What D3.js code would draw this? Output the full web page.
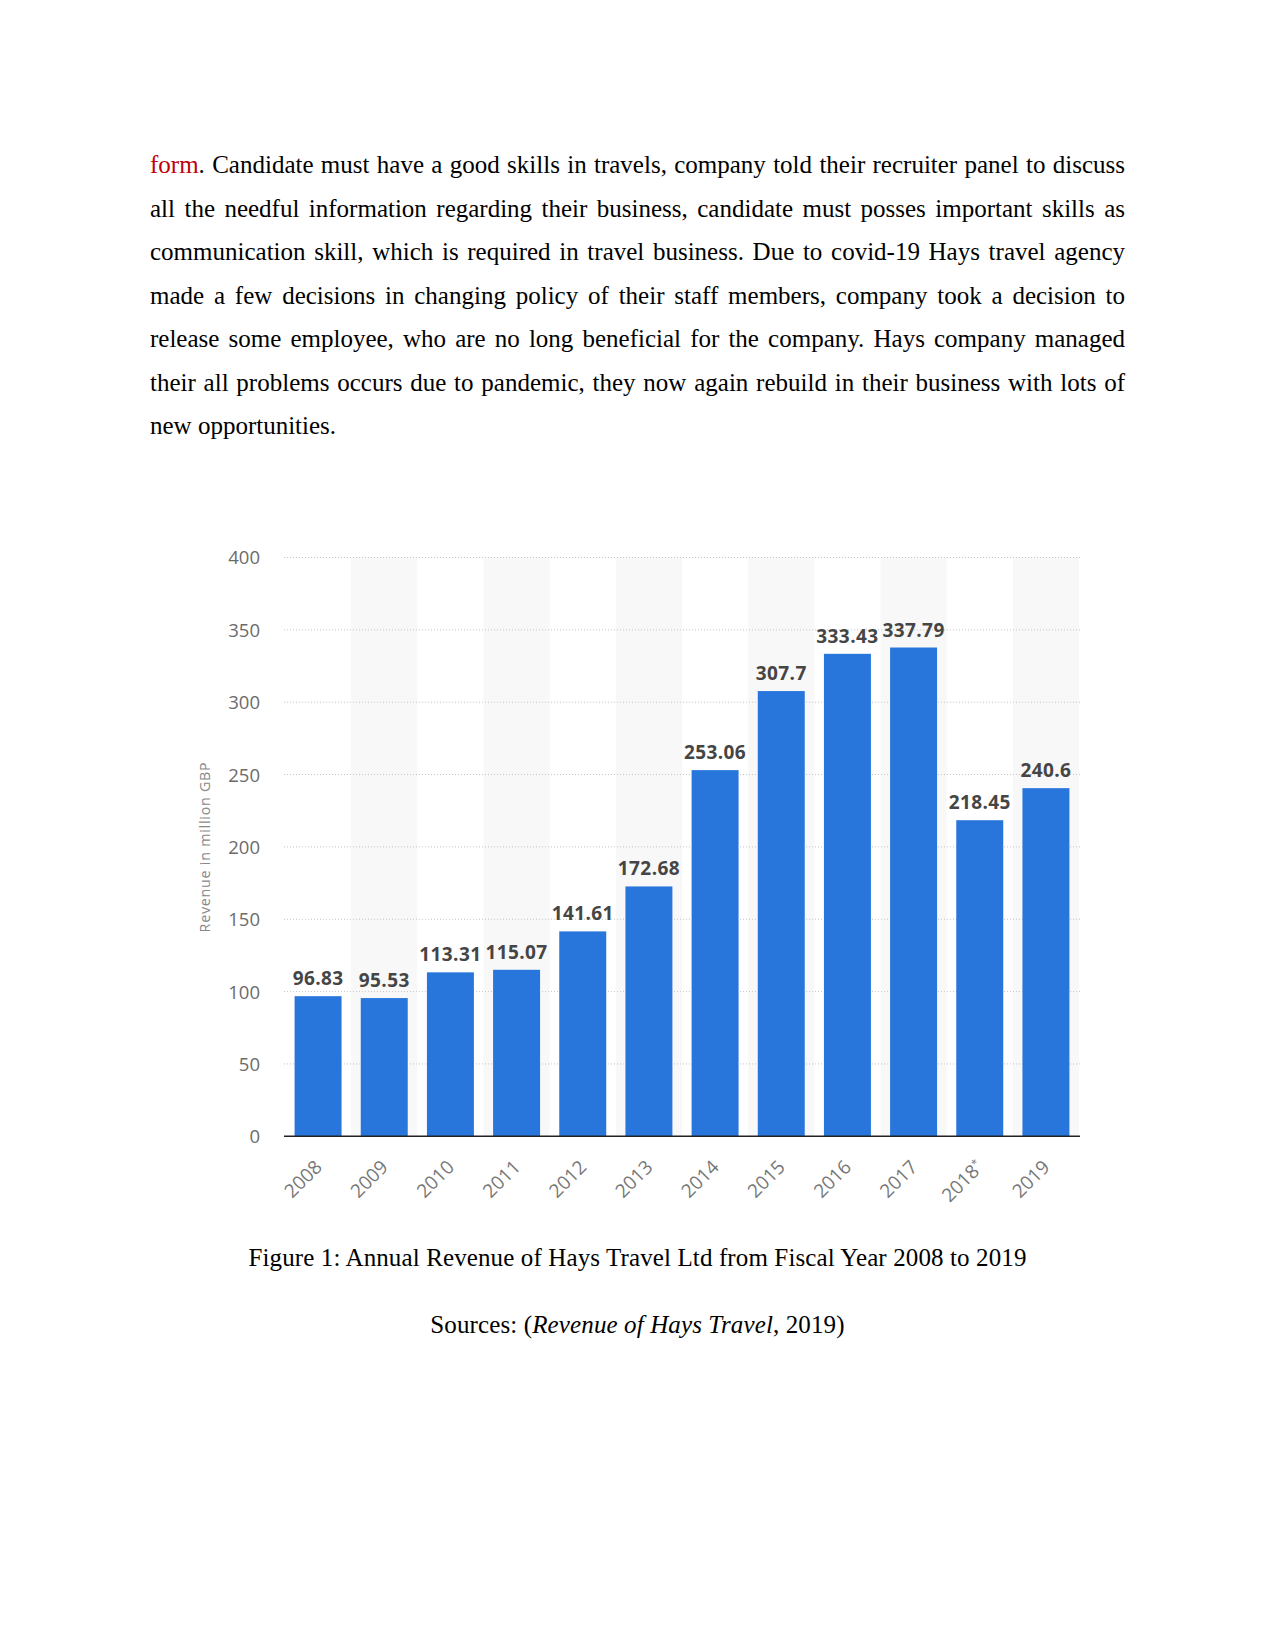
<!DOCTYPE html>
<html>
<head>
<meta charset="utf-8">
<script src="https://cdn.jsdelivr.net/npm/d3@7"></script>
<style>
  html, body { margin: 0; padding: 0; background: #fff; }
  body { width: 1275px; height: 1651px; position: relative; overflow: hidden; }
  .para { position: absolute; left: 150px; width: 975px; font-family: "Liberation Serif", "Times New Roman", serif; font-size: 25px; line-height: 43.5px; color: #000; }
  .line { text-align: justify; text-align-last: justify; white-space: nowrap; }
  .line.last { text-align-last: left; }
  .red { color: #c0000b; }
  .cap { position: absolute; left: 0; width: 1275px; text-align: center; font-family: "Liberation Serif", "Times New Roman", serif; font-size: 25px; line-height: 43.5px; color: #000; letter-spacing: 0.12px; }
  svg { position: absolute; left: 0; top: 0; }
</style>
</head>
<body>
<div class="para" id="para" style="top:143px"></div>
<div class="cap" id="cap1" style="top:1236px"></div>
<div class="cap" id="cap2" style="top:1303px"></div>
<svg id="chart" width="1275" height="1651"></svg>
<script>
// ---- data ----
const years = ["2008","2009","2010","2011","2012","2013","2014","2015","2016","2017","2018*","2019"];
const revenue = [96.83, 95.53, 113.31, 115.07, 141.61, 172.68, 253.06, 307.7, 333.43, 337.79, 218.45, 240.6];
const yTicks = [0, 50, 100, 150, 200, 250, 300, 350, 400];
const yTitle = "Revenue in million GBP";
const paraLines = [
  "form. Candidate must have a good skills in travels, company told their recruiter panel to discuss",
  "all the needful information regarding their business, candidate must posses important skills as",
  "communication skill, which is required in travel business. Due to covid-19 Hays travel agency",
  "made a few decisions in changing policy of their staff members, company took a decision to",
  "release some employee, who are no long beneficial for the company. Hays company managed",
  "their all problems occurs due to pandemic, they now again rebuild in their business with lots of",
  "new opportunities."
];
const caption = "Figure 1: Annual Revenue of Hays Travel Ltd from Fiscal Year 2008 to 2019";

// ---- paragraph ----
const para = d3.select("#para");
paraLines.forEach((t, i) => {
  const d = para.append("div").attr("class", "line" + (i === paraLines.length - 1 ? " last" : ""));
  if (i === 0) {
    d.append("span").attr("class", "red").text("form");
    d.append("span").text(t.slice(4));
  } else {
    d.text(t);
  }
});
d3.select("#cap1").text(caption);
const c2 = d3.select("#cap2");
c2.append("span").text("Sources: (");
c2.append("i").text("Revenue of Hays Travel");
c2.append("span").text(", 2019)");

// ---- chart ----
const svg = d3.select("#chart");
const x0 = 284, x1 = 1080, yBot = 1136.3, yTop = 557.5;
const x = d3.scaleBand().domain(years).range([x0, x1]).paddingInner(0.29).paddingOuter(0.16);
const y = d3.scaleLinear().domain([0, 400]).range([yBot, yTop]);

// alternating shaded bands
svg.append("g").selectAll("rect").data(years.filter((d, i) => i % 2 === 1)).join("rect")
  .attr("x", d => x(d) - x.step() * x.paddingInner() / 2)
  .attr("width", x.step())
  .attr("y", yTop)
  .attr("height", yBot - yTop)
  .attr("fill", "#f8f8f8");

// gridlines
svg.append("g").selectAll("line").data(yTicks.filter(t => t > 0)).join("line")
  .attr("x1", x0).attr("x2", x1)
  .attr("y1", d => y(d)).attr("y2", d => y(d))
  .attr("stroke", "#c4c4c4").attr("stroke-width", 1).attr("stroke-dasharray", "1,2");

// y axis labels
const yAxis = d3.axisLeft(y).tickValues(yTicks).tickSize(0).tickPadding(0);
const gy = svg.append("g").attr("transform", "translate(260,0)").call(yAxis);
gy.select(".domain").remove();
gy.selectAll("text").attr("font-family", "'Open Sans', sans-serif").attr("font-size", 18.5).attr("fill", "#6b6b6b").attr("dy", "0.35em");

// y title
svg.append("text")
  .attr("transform", "translate(210,847) rotate(-90)")
  .attr("text-anchor", "middle")
  .attr("font-family", "'Open Sans', sans-serif")
  .attr("font-size", 14.3)
  .attr("letter-spacing", "0.75px")
  .attr("fill", "#888")
  .text(yTitle);

// bars
svg.append("g").selectAll("rect").data(revenue).join("rect")
  .attr("x", (d, i) => x(years[i]))
  .attr("width", x.bandwidth())
  .attr("y", d => y(d))
  .attr("height", d => yBot - y(d))
  .attr("fill", "#2876dc");

// value labels
svg.append("g").selectAll("text").data(revenue).join("text")
  .attr("x", (d, i) => x(years[i]) + x.bandwidth() / 2)
  .attr("y", d => y(d) - 11)
  .attr("text-anchor", "middle")
  .attr("font-family", "'Open Sans', sans-serif")
  .attr("font-weight", "bold")
  .attr("font-size", 19)
  .attr("letter-spacing", "0.4px")
  .attr("fill", "#454545")
  .text(d => String(d));

// x axis line
const xAxis = d3.axisBottom(x).tickSize(0).tickPadding(0);
const gx = svg.append("g").attr("transform", `translate(0,${yBot})`).call(xAxis);
gx.select(".domain").attr("stroke", "#222").attr("stroke-width", 1.6).attr("d", `M${x0},0H${x1}`);
gx.selectAll(".tick text").remove();
gx.selectAll(".tick").each(function(d) {
  const t = d3.select(this).append("text")
    .attr("transform", "translate(5,32) rotate(-45)")
    .attr("text-anchor", "end")
    .attr("font-family", "'Open Sans', sans-serif")
    .attr("font-size", 19)
    .attr("fill", "#777");
  if (d.endsWith("*")) {
    t.append("tspan").text(d.slice(0, -1));
    t.append("tspan").attr("font-size", 11).attr("dy", "-0.6em").text("*");
  } else {
    t.text(d);
  }
});
</script>
</body>
</html>
